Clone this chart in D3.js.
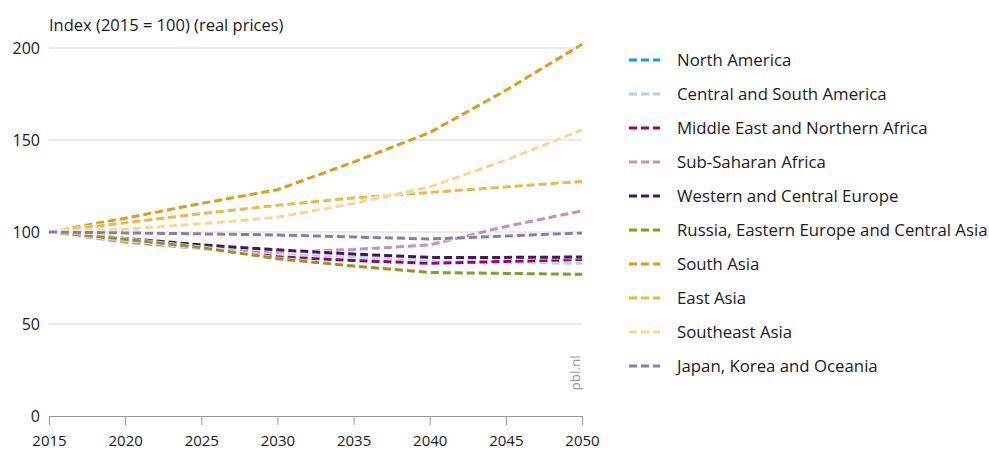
<!DOCTYPE html>
<html><head><meta charset="utf-8">
<script src="https://cdn.jsdelivr.net/npm/d3@7"></script>
<style>
body{margin:0;background:#fff;}
text{font-family:"Open Sans",sans-serif;fill:#1a1a1a;}
</style></head><body>
<svg id="c" width="989" height="453"></svg>
<script>
const years = [2015, 2020, 2025, 2030, 2035, 2040, 2045, 2050];
const xTicks = [2015, 2020, 2025, 2030, 2035, 2040, 2045, 2050];
const yTicks = [0, 50, 100, 150, 200];
const regions = ["North America","Central and South America","Middle East and Northern Africa","Sub-Saharan Africa","Western and Central Europe","Russia, Eastern Europe and Central Asia","South Asia","East Asia","Southeast Asia","Japan, Korea and Oceania"];
const colors = ["#12a0dc","#a9d3f1","#a3005f","#c98fb4","#42175e","#8d991f","#e09c12","#efb842","#f6d891","#8b7daa"];
const northAmerica   = [100, 96, 93, 89.5, 87, 85.5, 85.5, 86];
const centralSouthAm = [100, 95.5, 92, 88, 85.5, 84, 83.5, 83];
const middleEast     = [100, 95.5, 92, 86.5, 84.5, 83, 84, 85];
const subSaharan     = [100, 94.5, 91, 89, 90.5, 93, 103, 111.5];
const westernEurope  = [100, 96.5, 93, 90.3, 88, 86.2, 86.2, 86.4];
const russiaEECA     = [100, 96, 91.5, 85.5, 81.5, 78, 77.5, 77];
const southAsia      = [100, 107.5, 115.5, 123, 138, 154, 177, 202];
const eastAsia       = [100, 105, 110, 114.5, 118.5, 121.5, 124.5, 127.5];
const southeastAsia  = [100, 101.5, 104.5, 108, 115.5, 124.5, 139, 155.5];
const japanKorea     = [100, 99.5, 99, 98.4, 97.3, 96.2, 97.8, 99.5];
const series = [northAmerica, centralSouthAm, middleEast, subSaharan, westernEurope, russiaEECA, southAsia, eastAsia, southeastAsia, japanKorea];

const svg = d3.select("#c");
const x = d3.scaleLinear().domain([2015, 2050]).range([49, 582]);
const y = d3.scaleLinear().domain([0, 200]).range([416, 48]);

// gridlines
svg.append("g").selectAll("line").data(yTicks.filter(d => d > 0)).join("line")
  .attr("x1", x(2015)).attr("x2", x(2050))
  .attr("y1", d => y(d)).attr("y2", d => y(d))
  .attr("stroke", "#d8d8d8").attr("stroke-width", 1);

// y labels
svg.append("g").selectAll("text").data(yTicks).join("text")
  .attr("x", 40).attr("y", d => y(d)).attr("dy", "0.35em")
  .attr("text-anchor", "end").style("font-size", "16px").text(d => d);

// x axis
const xa = svg.append("g").attr("transform", `translate(0,${y(0)})`)
  .call(d3.axisBottom(x).tickValues(xTicks).tickFormat(d3.format("d")).tickSize(9).tickPadding(10));
xa.select(".domain").attr("stroke", "#9a9a9a");
xa.selectAll(".tick line").attr("stroke", "#9a9a9a");
xa.selectAll(".tick text").style("font-size", "15px").style("font-family", '"Open Sans",sans-serif').attr("fill", "#1a1a1a");

// title
svg.append("text").attr("x", 49).attr("y", 31).style("font-size", "16.5px").text("Index (2015 = 100) (real prices)");

// lines
const line = d3.line().x((d, i) => x(years[i])).y(d => y(d));
const lg = svg.append("g");
series.forEach((s, k) => {
  lg.append("path").datum(s).attr("d", line).attr("fill", "none")
    .attr("stroke", "#fff").attr("stroke-width", 4.5).attr("stroke-dasharray", "8,4").attr("opacity", 0.8);
  lg.append("path").datum(s).attr("d", line).attr("fill", "none")
    .attr("stroke", colors[k]).attr("stroke-width", 3).attr("stroke-dasharray", "8,4");
});

// pbl.nl
svg.append("text").attr("transform", "translate(580,373) rotate(-90)")
  .attr("text-anchor", "middle").style("font-size", "13.5px").style("fill", "#9a9a9a").text("pbl.nl");

// legend
const leg = svg.append("g").selectAll("g").data(regions).join("g")
  .attr("transform", (d, i) => `translate(629,${60 + i * 34})`);
leg.append("line").attr("x1", 0).attr("x2", 31).attr("y1", 0).attr("y2", 0)
  .attr("stroke", (d, i) => colors[i]).attr("stroke-width", 3).attr("stroke-dasharray", "8,4");
leg.append("text").attr("x", 48).attr("y", 0).attr("dy", "0.35em").style("font-size", "16.8px").text(d => d);
</script></body></html>
